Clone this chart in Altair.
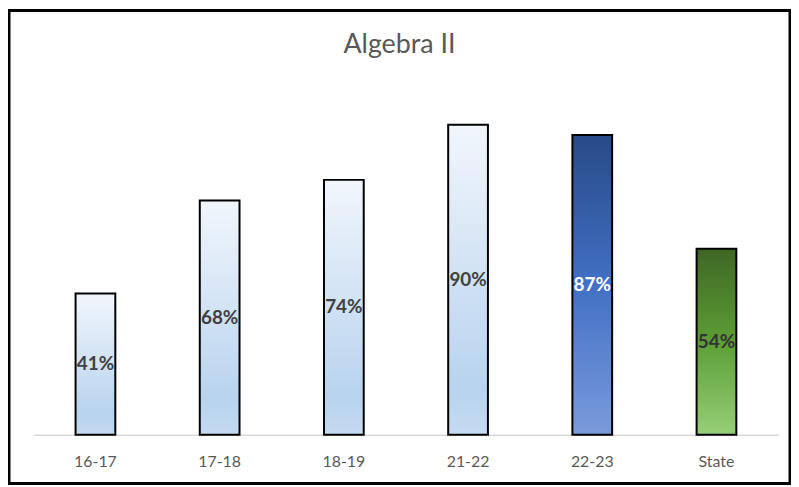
import altair as alt
import pandas as pd

categories = ["16-17", "17-18", "18-19", "21-22", "22-23", "State"]
values = [0.41, 0.68, 0.74, 0.90, 0.87, 0.54]
labels = ["41%", "68%", "74%", "90%", "87%", "54%"]
groups = ["light", "light", "light", "light", "dark", "green"]
label_colors = ["#404040", "#404040", "#404040", "#404040", "#ffffff", "#333333"]

df = pd.DataFrame({
    "cat": categories,
    "value": values,
    "label": labels,
    "group": groups,
    "lc": label_colors,
})
df["mid"] = df["value"] / 2

def grad(stops):
    return alt.Gradient(
        gradient="linear", x1=0, y1=0, x2=0, y2=1,
        stops=[alt.GradientStop(offset=o, color=c) for o, c in stops],
    )

fills = {
    "light": grad([(0, "#f1f6fc"), (0.85, "#b8d3ee"), (1, "#c4dbf1")]),
    "dark": grad([(0, "#284a87"), (0.5, "#4270c4"), (1, "#7b9bdc")]),
    "green": grad([(0, "#3e6623"), (0.5, "#5c9e35"), (1, "#96cf78")]),
}

x_enc = alt.X(
    "cat:N", sort=categories,
    scale=alt.Scale(range=[24.5, 774.5], paddingInner=0.68, paddingOuter=0.34),
    axis=alt.Axis(title=None, labelAngle=0, ticks=False, grid=False,
                  domainColor="#d9d9d9", domainWidth=1.5,
                  labelColor="#595959", labelFont="Lato", labelFontSize=16,
                  labelPadding=19, offset=-49),
)
y_scale = alt.Scale(domain=[0, 1], range=[427, 80.3])

base = alt.Chart(df)
layers = []
for g in ["light", "dark", "green"]:
    layers.append(
        base.transform_filter(alt.datum.group == g)
        .mark_bar(fill=fills[g], stroke="black", strokeWidth=2)
        .encode(x=x_enc, y=alt.Y("value:Q", scale=y_scale, axis=None))
    )

text = base.mark_text(font="Lato", fontSize=19, fontWeight="bold").encode(
    x=x_enc,
    y=alt.Y("mid:Q", scale=y_scale, axis=None),
    text="label:N",
    color=alt.Color("lc:N", scale=None),
)

chart = alt.layer(*layers, text).properties(
    width=786, height=476,
    autosize=alt.AutoSizeParams(type="none"),
    padding=1,
    title=alt.TitleParams("Algebra II", font="Lato", fontSize=27, fontWeight="normal",
                          color="#595959", anchor="middle", offset=-70,
                          baseline="alphabetic", frame="group"),
).configure_view(stroke="black", strokeWidth=3)

chart.save("out.html", embed_options={"renderer": "svg", "actions": False})
